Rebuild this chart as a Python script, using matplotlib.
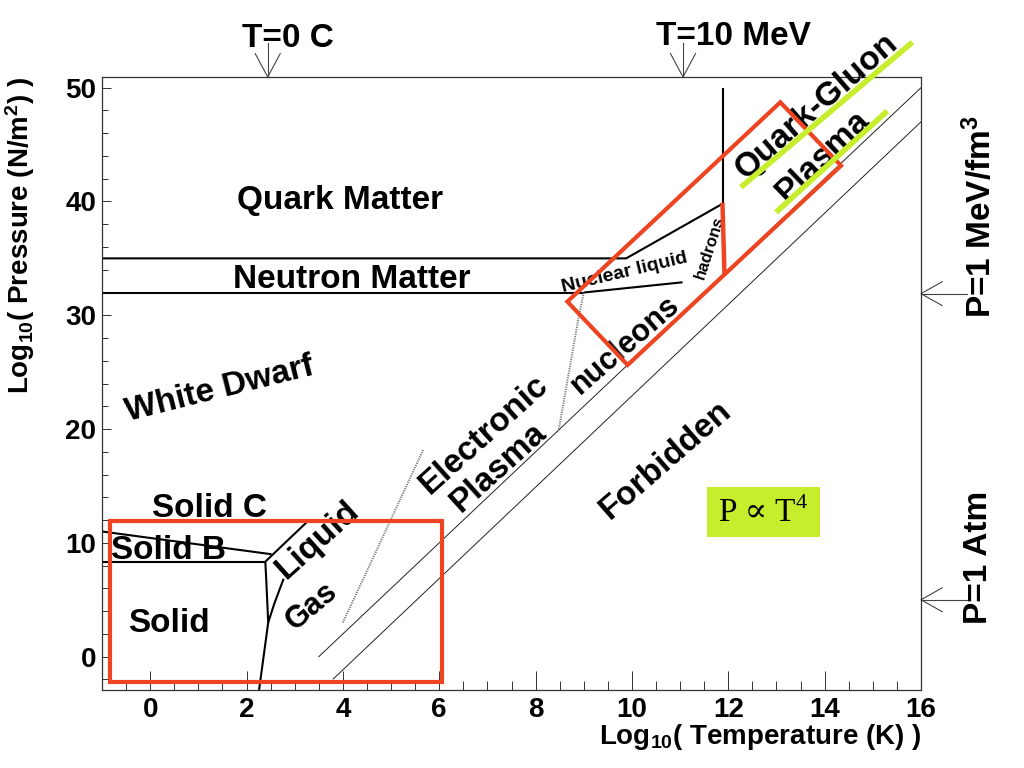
import matplotlib
matplotlib.use("Agg")
import matplotlib.pyplot as plt
from matplotlib.patches import Rectangle, Polygon
from matplotlib.ticker import MultipleLocator

# phase diagram boundaries, log10(T [K]) vs log10(P [N/m^2])
neutron_upper_x = [-1, 9.88, 11.88]
neutron_upper_y = [35.0, 35.0, 39.8]
deconf_x = [11.88, 11.88]
deconf_y = [39.8, 50.0]
neutron_lower_x = [-1, 9.0]
neutron_lower_y = [32.0, 32.0]
nuc_liquid_x = [9.0, 11.05]
nuc_liquid_y = [32.0, 32.9]
hadron_edge_x = [11.88, 11.92]
hadron_edge_y = [39.7, 33.7]

# low temperature part
solid_cb_x = [-1, 2.52]
solid_cb_y = [11.0, 9.0]
solid_b_x = [-1, 2.39]
solid_b_y = [8.35, 8.35]
melting_x = [2.39, 3.27]
melting_y = [8.35, 11.9]
sublim_x = [2.39, 2.41, 2.45, 2.26]
sublim_y = [8.35, 6.7, 3.0, -2.93]
vapor_x = [2.45, 2.58, 2.77]
vapor_y = [3.0, 4.7, 6.85]

# dotted ionisation lines
ion1_x = [4.0, 4.76, 5.67]
ion1_y = [3.0, 9.9, 18.2]
ion2_x = [9.0, 8.9, 8.48]
ion2_y = [32.0, 30.0, 19.9]

# P ~ T^4 lines
rad1_x = [3.5, 16.0]
rad1_y = [0.0, 50.0]
rad2_x = [3.8, 16.0]
rad2_y = [-1.96, 47.0]

# reference marks
t_marks = [2.44, 11.06]          # T=0 C, T=10 MeV
p_marks = [31.9, 5.0]            # P=1 MeV/fm3, P=1 Atm

XLIM = (-1, 16)
YLIM = (-2.93, 50.94)

RED = "#ee4422"
GREEN = "#c6ee2c"
SERIF = ["Liberation Serif", "DejaVu Serif"]

plt.rcParams.update({
    "font.family": "Liberation Sans",
    "font.weight": "bold",
    "mathtext.fontset": "custom",
    "mathtext.rm": "Liberation Sans:bold",
    "mathtext.it": "Liberation Sans:bold",
    "mathtext.bf": "Liberation Sans:bold",
    "mathtext.default": "rm",
})

fig = plt.figure(figsize=(10.24, 7.68), dpi=100)
ax = fig.add_axes([102 / 1024, 1 - 690 / 768, (921 - 102) / 1024, (690 - 77) / 768])
ax.set_xlim(*XLIM)
ax.set_ylim(*YLIM)

for s in ax.spines.values():
    s.set_color("#333333")
    s.set_linewidth(0.9)

ax.xaxis.set_major_locator(MultipleLocator(2))
ax.xaxis.set_minor_locator(MultipleLocator(0.5))
ax.yaxis.set_major_locator(MultipleLocator(10))
ax.yaxis.set_minor_locator(MultipleLocator(2))
ax.tick_params(axis="x", which="major", direction="in", length=13.4, width=0.7,
               labelsize=20, pad=5, color="#333333")
ax.tick_params(axis="x", which="minor", direction="in", length=6.7, width=0.7, color="#333333")
ax.tick_params(axis="y", which="major", direction="in", length=6.2, width=0.7,
               labelsize=20, pad=4, color="#333333")
ax.tick_params(axis="y", which="minor", direction="in", length=4.1, width=0.7, color="#333333")

ax.text(1.0, -0.088, r"Log$_{10}$( Temperature (K) )", transform=ax.transAxes,
        ha="right", va="baseline", fontsize=20)
ax.text(-0.1, 1.0, r"Log$_{10}$( Pressure (N/m$^{2}$) )", transform=ax.transAxes,
        ha="center", va="top", rotation=90, fontsize=20)

# boundaries
k = dict(color="black", lw=1.5, solid_capstyle="butt")
ax.plot(neutron_upper_x, neutron_upper_y, **k)
ax.plot(deconf_x, deconf_y, **k)
ax.plot(neutron_lower_x, neutron_lower_y, **k)
ax.plot(nuc_liquid_x, nuc_liquid_y, **k)
ax.plot(solid_cb_x, solid_cb_y, **k)
ax.plot(solid_b_x, solid_b_y, **k)
ax.plot(melting_x, melting_y, **k)
ax.plot(sublim_x, sublim_y, **k)
ax.plot(vapor_x, vapor_y, **k)
ax.plot(rad1_x, rad1_y, color="#222222", lw=0.7)
ax.plot(rad2_x, rad2_y, color="#222222", lw=0.7)
ax.plot(ion1_x, ion1_y, color="#777777", lw=1.4, ls=(0, (0.6, 0.6)))
ax.plot(ion2_x, ion2_y, color="#777777", lw=1.4, ls=(0, (0.6, 0.6)))

# reference arrows outside the frame
arr = dict(color="#444444", lw=0.8, clip_on=False)
for tx in t_marks:
    ax.plot([tx, tx], [YLIM[1], 53.9], **arr)
    ax.plot([tx - 0.26, tx, tx + 0.26], [53.0, YLIM[1], 53.0], **arr)
for py in p_marks:
    ax.plot([XLIM[1], 16.96], [py, py], **arr)
    ax.plot([16.44, XLIM[1], 16.44], [py + 1.05, py, py - 1.05], **arr)

ax.text(1.9, 53.6, "T=0 C", fontsize=24, ha="left", va="baseline", clip_on=False)
ax.text(10.5, 53.75, "T=10 MeV", fontsize=24, ha="left", va="baseline", clip_on=False)
ax.text(17.23, 29.76, r"P=1 MeV/fm$^{3}$", fontsize=24, rotation=90,
        ha="center", va="bottom", clip_on=False)
ax.text(17.19, 2.87, "P=1 Atm", fontsize=24, rotation=90,
        ha="center", va="bottom", clip_on=False)

# region names
big = dict(fontsize=24, ha="center", va="center")
ax.text(3.94, 39.31, "Quark Matter", fontsize=24, ha="center", va="baseline")
ax.text(4.19, 32.37, "Neutron Matter", fontsize=24, ha="center", va="baseline")
ax.text(1.24, 12.25, "Solid C", fontsize=24, ha="center", va="baseline")
ax.text(0.37, 8.59, "Solid B", fontsize=24, ha="center", va="baseline")
ax.text(0.39, 2.14, "Solid", fontsize=24, ha="center", va="baseline")
ax.text(1.44, 23.52, "White Dwarf", rotation=14, **big)
ax.text(3.48, 10.26, "Liquid", rotation=42, **big)
ax.text(3.35, 4.41, "Gas", rotation=40, fontsize=22, ha="center", va="center")
ax.text(6.94, 19.48, "Electronic", rotation=42, **big)
ax.text(7.23, 16.67, "Plasma", rotation=42, **big)
ax.text(9.87, 27.39, "nucleons", rotation=41, fontsize=22, ha="center", va="center")
ax.text(9.84, 33.72, "Nuclear liquid", rotation=13.5, fontsize=14, ha="center", va="center")
ax.text(11.62, 35.96, "hadrons", rotation=72, fontsize=12, ha="center", va="center")
ax.text(13.84, 48.38, "Quark-Gluon", rotation=41, clip_on=False, **big)
ax.text(13.96, 43.99, "Plasma", rotation=44, **big)
ax.text(10.71, 17.28, "Forbidden", rotation=41, **big)

# P ~ T^4 box
ax.add_patch(Rectangle((11.56, 10.49), 13.9 - 11.56, 14.94 - 10.49,
                       facecolor=GREEN, edgecolor="none", zorder=3))
law = ax.text(12.6, 12.62, "P \u221d T", family=SERIF, fontweight="normal",
              fontsize=24, ha="center", va="center", zorder=4)
ax.annotate("4", xy=(1.0, 0.5), xycoords=law, ha="left", va="bottom",
            family=SERIF, fontweight="normal", fontsize=16, zorder=4)

# highlight marks
ax.add_patch(Rectangle((-0.83, -2.2), 6.06 + 0.83, 11.95 + 2.2, fill=False,
                       edgecolor=RED, lw=3, zorder=5, clip_on=False))
ax.add_patch(Polygon([(13.08, 48.72), (14.34, 43.15), (9.91, 25.63), (8.66, 31.2)],
                     closed=True, fill=False, edgecolor=RED, lw=3, zorder=5))
ax.plot(hadron_edge_x, hadron_edge_y, color=RED, lw=3.2, zorder=5)
ax.plot([12.26, 15.82], [41.25, 53.99], color=GREEN, lw=4, zorder=6, clip_on=False,
        solid_capstyle="butt")
ax.plot([12.99, 15.3], [39.05, 47.95], color=GREEN, lw=4, zorder=6, solid_capstyle="butt")

fig.savefig("out.png", dpi=100)
